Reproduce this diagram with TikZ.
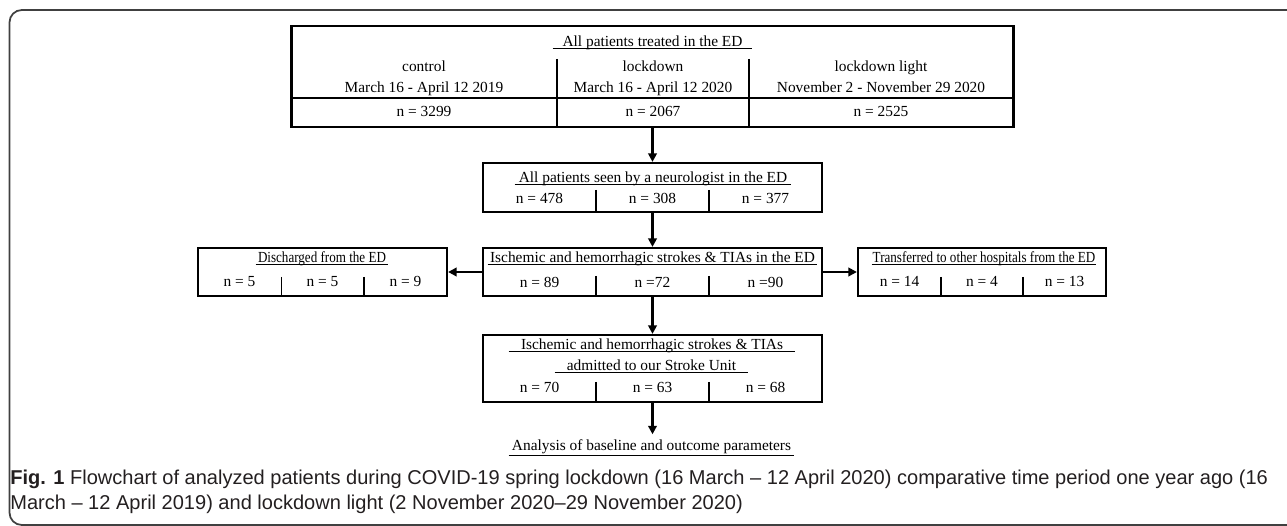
\documentclass[tikz,border=0pt]{standalone}
\usepackage{fontspec}
\setmainfont{Liberation Serif}
\newfontfamily\narrowserif[FakeStretch=0.85]{Liberation Serif}
\newfontfamily\capsans{Liberation Sans}
\usetikzlibrary{arrows.meta}
\definecolor{capgray}{RGB}{35,31,32}
\def\px{0.02cm}

\begin{document}
\begin{tikzpicture}[x=0.02cm, y=-0.02cm, >={Triangle[length=4.8pt,width=4.8pt]}]
\tikzstyle{box} = [draw, rectangle, line width=1.25pt, inner sep=0pt]
\tikzstyle{txt} = [inner sep=0pt, font=\fontsize{8.76}{10.5}\selectfont]
\tikzstyle{num} = [txt, anchor=base]
\tikzstyle{narrow} = [inner sep=0pt, font=\fontsize{8.76}{10.5}\selectfont\narrowserif]
\tikzstyle{sep} = [draw, line width=0.7pt]
\tikzstyle{rule} = [draw, line width=0.5pt]
\tikzstyle{line} = [draw, ->, line width=1.4pt]

\useasboundingbox (0,0) rectangle (1287,526);
\draw[line width=1pt, black!75, rounded corners=7] (1295,10) -- (9.5,10) -- (9.5,525) -- (1295,525);

% all patients
\node [box, minimum width={722*\px}, minimum height={101*\px}] (all) at (652.5,76.5) {};
\node [txt, minimum width={199*\px}] (allT) at (652.5,43) {All patients treated in the ED};
\path [rule] ([yshift=-1.2pt]allT.base west) -- ([yshift=-1.2pt]allT.base east);
\node [num] (ctrl) at (424,72) {control};
\node [num] (ctrlD) at (424,93) {March 16 - April 12 2019};
\node [num] (ctrlN) at (424,117) {n = 3299};
\node [num] (lock) at (653,72) {lockdown};
\node [num] (lockD) at (653,93) {March 16 - April 12 2020};
\node [num] (lockN) at (653,117) {n = 2067};
\node [num] (light) at (881,72) {lockdown light};
\node [num] (lightD) at (881,93) {November 2 - November 29 2020};
\node [num] (lightN) at (881,117) {n = 2525};
\path [sep] (all.west |- 0,98) -- (all.east |- 0,98);
\path [sep] (557,59) -- (557,0 |- all.south);
\path [sep] (749,59) -- (749,0 |- all.south);

% neurologist
\node [box, minimum width={339*\px}, minimum height={49*\px}] (neuro) at (652.5,187.5) {};
\node [txt, minimum width={276*\px}] (neuroT) at (653,179) {All patients seen by a neurologist in the ED};
\path [rule] ([yshift=-1.2pt]neuroT.base west) -- ([yshift=-1.2pt]neuroT.base east);
\node [num] (neuro1) at (539.5,204) {n = 478};
\node [num] (neuro2) at (652.5,204) {n = 308};
\node [num] (neuro3) at (765.5,204) {n = 377};
\path [sep] (596,190) -- (596,0 |- neuro.south);
\path [sep] (709,190) -- (709,0 |- neuro.south);

% strokes in the ED
\node [box, minimum width={339*\px}, minimum height={48*\px}] (stroke) at (652.5,272) {};
\node [txt, minimum width={329*\px}] (strokeT) at (652.5,259) {Ischemic and hemorrhagic strokes \& TIAs in the ED};
\path [rule] ([yshift=-1.2pt]strokeT.base west) -- ([yshift=-1.2pt]strokeT.base east);
\node [num] (stroke1) at (539.5,288) {n = 89};
\node [num] (stroke2) at (652.5,288) {n =72};
\node [num] (stroke3) at (765.5,288) {n =90};
\path [sep] (596,276) -- (596,0 |- stroke.south);
\path [sep] (709,276) -- (709,0 |- stroke.south);

% discharged
\node [box, minimum width={249*\px}, minimum height={48*\px}] (dis) at (322.5,272) {};
\node [narrow, minimum width={132*\px}] (disT) at (322,259) {Discharged from the ED};
\path [rule] ([yshift=-1.2pt]disT.base west) -- ([yshift=-1.2pt]disT.base east);
\node [num] (dis1) at (239.5,287) {n = 5};
\node [num] (dis2) at (322.5,287) {n = 5};
\node [num] (dis3) at (405.5,287) {n = 9};
\path [sep] (281.5,277) -- (281.5,0 |- dis.south);
\path [sep] (364,277) -- (364,0 |- dis.south);

% transferred
\node [box, minimum width={248*\px}, minimum height={48*\px}] (trans) at (982,272) {};
\node [narrow, minimum width={224*\px}] (transT) at (984,259) {Transferred to other hospitals from the ED};
\path [rule] ([yshift=-1.2pt]transT.base west) -- ([yshift=-1.2pt]transT.base east);
\node [num] (trans1) at (899.5,287) {n = 14};
\node [num] (trans2) at (982,287) {n = 4};
\node [num] (trans3) at (1064.5,287) {n = 13};
\path [sep] (941,277) -- (941,0 |- trans.south);
\path [sep] (1023,277) -- (1023,0 |- trans.south);

% stroke unit
\node [box, minimum width={339*\px}, minimum height={67*\px}] (unit) at (652.5,368.5) {};
\node [txt, minimum width={286*\px}] (unitT) at (652,346) {Ischemic and hemorrhagic strokes \& TIAs};
\path [rule] ([yshift=-1.2pt]unitT.base west) -- ([yshift=-1.2pt]unitT.base east);
\node [txt, minimum width={193*\px}] (unitS) at (651.5,365) {admitted to our Stroke Unit};
\path [rule] ([yshift=-1.2pt]unitS.base west) -- ([yshift=-1.2pt]unitS.base east);
\node [num] (unit1) at (539.5,393) {n = 70};
\node [num] (unit2) at (652.5,393) {n = 63};
\node [num] (unit3) at (765.5,393) {n = 68};
\path [sep] (596,382) -- (596,0 |- unit.south);
\path [sep] (709,382) -- (709,0 |- unit.south);

% analysis
\node [txt, inner ysep=3pt, minimum width={285*\px}] (ana) at (651.5,447) {Analysis of baseline and outcome parameters};
\path [rule] ([yshift=-2.4pt]ana.base west) -- ([yshift=-2.4pt]ana.base east);

\path [line] (all) -- (neuro);
\path [line] (neuro) -- (stroke);
\path [line] (stroke) -- (dis);
\path [line] (stroke) -- (trans);
\path [line] (stroke) -- (unit);
\path [line] (unit.south) -- (unit.south |- ana.north);

% caption
\node [anchor=north west, inner sep=0pt, align=left, text=capgray, font=\fontsize{11.4}{13.8}\selectfont\capsans] (cap) at (10,470) {\textbf{Fig. 1} Flowchart of analyzed patients during COVID-19 spring lockdown (16 March – 12 April 2020) comparative time period one year ago (16\\March – 12 April 2019) and lockdown light (2 November 2020–29 November 2020)};
\end{tikzpicture}
\end{document}
